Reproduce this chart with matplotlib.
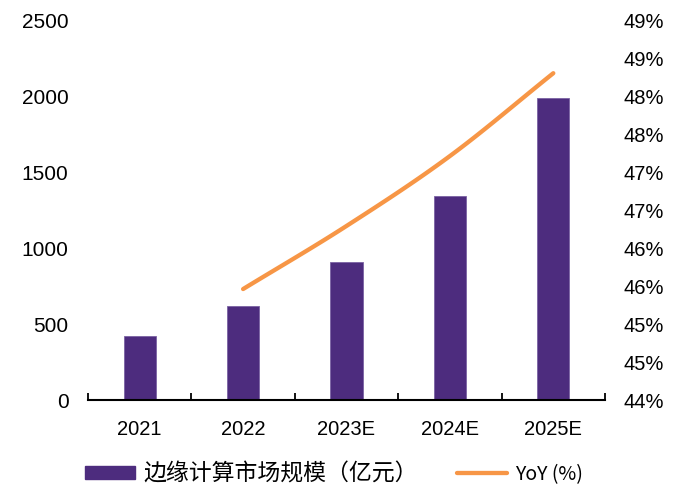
import numpy as np
import matplotlib
matplotlib.use("Agg")
import matplotlib.pyplot as plt
from matplotlib.patches import Patch
from matplotlib.lines import Line2D

plt.rcParams['font.family'] = ['Liberation Sans', 'Noto Sans CJK SC', 'DejaVu Sans']

# ---- data ----
categories = ['2021', '2022', '2023E', '2024E', '2025E']
market_size = [423, 618, 908, 1340, 1987]          # 边缘计算市场规模（亿元）
yoy_categories = ['2022', '2023E', '2024E', '2025E']
yoy = [45.46, 46.29, 47.21, 48.30]                 # YoY (%)
left_ticks = [0, 500, 1000, 1500, 2000, 2500]
left_tick_labels = ['0', '500', '1000', '1500', '2000', '2500']
right_ticks = [44.0, 44.5, 45.0, 45.5, 46.0, 46.5, 47.0, 47.5, 48.0, 48.5, 49.0]
right_tick_labels = ['44%', '45%', '45%', '46%', '46%', '47%', '47%', '48%', '48%', '49%', '49%']
bar_label = '边缘计算市场规模（亿元）'
line_label = 'YoY (%)'

PURPLE = '#4D2C7E'
ORANGE = '#F79646'

fig = plt.figure(figsize=(6.76, 4.90), dpi=100)
ax = fig.add_axes([88 / 676, 1 - 400 / 490, (605 - 88) / 676, (400 - 20) / 490])

x = np.arange(len(categories))
ax.bar(x, market_size, width=0.31, color=PURPLE, edgecolor='#7B62A3', linewidth=0.6, zorder=2)
ax.set_xlim(-0.5, len(categories) - 0.5)
ax.set_ylim(0, 2500)
ax.set_yticks(left_ticks)
ax.set_yticklabels(left_tick_labels)
ax.set_xticks(x)
ax.set_xticklabels(categories)
ax.set_xticks(np.arange(-0.5, len(categories), 1.0), minor=True)
ax.tick_params(axis='x', which='major', length=0, pad=14.5, labelsize=14.5)
ax.tick_params(axis='x', which='minor', direction='in', length=5, width=1.3, color='black')
ax.tick_params(axis='y', length=0, pad=14, labelsize=15)
for s in ['left', 'right', 'top']:
    ax.spines[s].set_visible(False)
ax.spines['bottom'].set_linewidth(1.5)

ax2 = ax.twinx()
ax2.set_ylim(44, 49)
ax2.set_yticks(right_ticks)
ax2.set_yticklabels(right_tick_labels)
ax2.tick_params(axis='y', length=0, pad=13, labelsize=14.5)
for s in ['left', 'right', 'top', 'bottom']:
    ax2.spines[s].set_visible(False)

# smooth line through YoY points (Catmull-Rom rendering)
xl = np.array([categories.index(c) for c in yoy_categories], dtype=float)
yl = np.array(yoy, dtype=float)
P = np.column_stack([xl, yl])
Pext = np.vstack([2 * P[0] - P[1], P, 2 * P[-1] - P[-2]])
pts = []
for i in range(1, len(Pext) - 2):
    p0, p1, p2, p3 = Pext[i - 1], Pext[i], Pext[i + 1], Pext[i + 2]
    for t in np.linspace(0, 1, 30, endpoint=False):
        t2, t3 = t * t, t * t * t
        pts.append(0.5 * ((2 * p1) + (-p0 + p2) * t + (2 * p0 - 5 * p1 + 4 * p2 - p3) * t2
                          + (-p0 + 3 * p1 - 3 * p2 + p3) * t3))
pts.append(P[-1])
pts = np.array(pts)
ax2.plot(pts[:, 0], pts[:, 1], color=ORANGE, linewidth=3.1, solid_capstyle='round', zorder=3)

handles = [Patch(facecolor=PURPLE, edgecolor=PURPLE),
           Line2D([0], [0], color=ORANGE, linewidth=3.1, solid_capstyle='round')]
leg = fig.legend(handles, [bar_label, line_label], loc='center', bbox_to_anchor=(334 / 676, 1 - 474 / 490),
                 ncol=2, frameon=False, handlelength=2.2, handleheight=0.5, handletextpad=0.35,
                 columnspacing=1.7, prop={'family': ['Noto Sans CJK SC', 'DejaVu Sans'], 'size': 16.5})
leg.get_texts()[1].set_fontsize(14)

fig.savefig('out.png', dpi=100)
